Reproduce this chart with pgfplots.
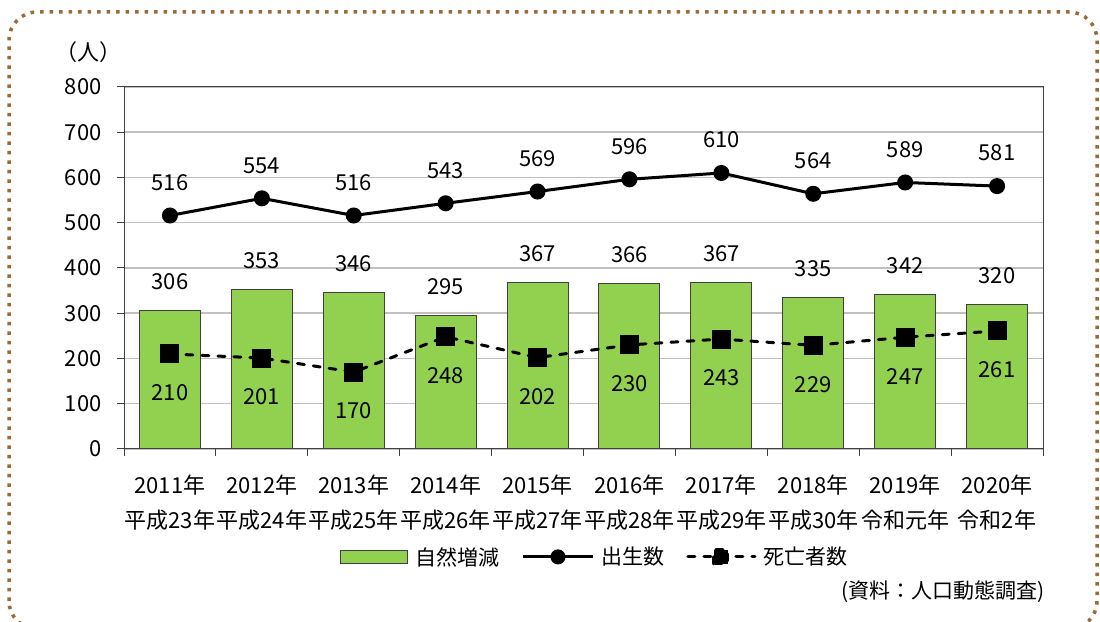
\documentclass[border=0pt]{standalone}
\usepackage{pgfplots}
\pgfplotsset{compat=1.18}
\usepackage{fontspec}
\setmainfont{Noto Sans CJK JP}
\definecolor{barfill}{HTML}{92D050}
\definecolor{bardraw}{HTML}{404040}
\definecolor{gridc}{HTML}{C0C0C0}
\definecolor{framec}{HTML}{9C6A35}
\newcommand{\lblfont}{\fontsize{22}{35}\selectfont}

\begin{document}
\begin{tikzpicture}
\useasboundingbox (0pt,0pt) rectangle (1100pt,621pt);
\begin{scope}
\clip (0pt,0pt) rectangle (1100pt,621pt);
\draw[framec, line width=3.5pt, dash pattern=on 3.5pt off 6pt, rounded corners=28pt]
  (9pt,-8pt) rectangle (1097pt,609pt);
\end{scope}

\begin{axis}[
    at={(124pt,172pt)}, anchor=south west,
    scale only axis, width=919pt, height=362pt,
    xmin=-0.5, xmax=9.5, ymin=0, ymax=800,
    ytick={0,100,...,800},
    xtick={0,...,9},
    xticklabels={{2011年\\平成23年},{2012年\\平成24年},{2013年\\平成25年},{2014年\\平成26年},
                 {2015年\\平成27年},{2016年\\平成28年},{2017年\\平成29年},{2018年\\平成30年},
                 {2019年\\令和元年},{2020年\\令和2年}},
    minor xtick={-0.5,0.5,...,9.5},
    major x tick style={draw=none},
    xtick pos=bottom, ytick pos=left,
    tick align=outside,
    major tick length=7pt, minor tick length=7pt,
    tick style={draw=black!75, line width=1pt},
    axis line style={draw=black!75, line width=1pt},
    ymajorgrids,
    grid style={gridc, line width=1.5pt},
    /pgf/number format/assume math mode=true,
    tick label style={font=\lblfont},
    xticklabel style={align=center, yshift=-15pt},
    yticklabel style={xshift=-12pt},
    legend columns=3,
    legend style={at={(0.5125,-0.298)}, anchor=center, draw=none, fill=none,
        font=\fontsize{21}{25}\selectfont,
        /tikz/every even column/.append style={column sep=20pt}},
]
\addplot[ybar, bar width=61pt, fill=barfill, draw=bardraw, line width=1pt,
    nodes near coords,
    nodes near coords style={anchor=center, yshift=29pt, font=\lblfont, text=black},
    legend image code/.code={\draw[fill=barfill, draw=bardraw, line width=1pt] (0pt,-6.5pt) rectangle (67pt,6.5pt); \path (72pt,0pt);}]
    coordinates {(0,306) (1,353) (2,346) (3,295) (4,367) (5,366) (6,367) (7,335) (8,342) (9,320)};
\addlegendentry{自然増減}

\addplot[black, line width=3pt, mark=*, mark size=6.5pt,
    nodes near coords,
    nodes near coords style={anchor=center, yshift=33pt, font=\lblfont, text=black},
    legend image code/.code={\draw[black, line width=3pt] (0pt,0pt) -- (70pt,0pt); \fill[black] (35pt,0pt) circle (6pt); \path (75pt,0pt);}]
    coordinates {(0,516) (1,554) (2,516) (3,543) (4,569) (5,596) (6,610) (7,564) (8,589) (9,581)};
\addlegendentry{出生数}

\addplot[black, line width=3pt, line cap=round, dash pattern=on 7pt off 9pt,
    mark=square*, mark size=8pt, mark options={solid},
    nodes near coords,
    nodes near coords style={anchor=center, yshift=-39pt, font=\lblfont, text=black},
    legend image code/.code={\draw[black, line width=3pt, line cap=round, dash pattern=on 7pt off 9pt] (0pt,0pt) -- (67pt,0pt); \fill[black] (26pt,-7pt) rectangle (40pt,7pt); \path (72pt,0pt);}]
    coordinates {(0,210) (1,201) (2,170) (3,248) (4,202) (5,230) (6,243) (7,229) (8,247) (9,261)};
\addlegendentry{死亡者数}
\end{axis}

\node[font=\fontsize{22}{26}\selectfont] at (88pt,569pt) {（人）};
\node[anchor=east, font=\fontsize{21}{25}\selectfont, inner sep=0pt] at (1045pt,29pt) {(資料：人口動態調査)};
\end{tikzpicture}
\end{document}
